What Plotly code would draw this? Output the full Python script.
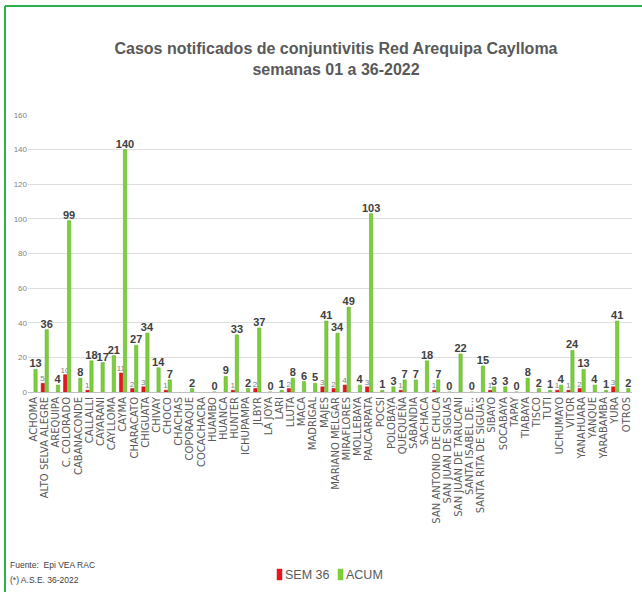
import plotly.graph_objects as go

categories = ["ACHOMA", "ALTO SELVA ALEGRE", "AREQUIPA", "C. COLORADO", "CABANACONDE",
              "CALLALLI", "CAYARANI", "CAYLLOMA", "CAYMA", "CHARACATO", "CHIGUATA",
              "CHIVAY", "CHOCO", "CHACHAS", "COPORAQUE", "COCACHACRA", "HUAMBO",
              "HUANCA", "HUNTER", "ICHUPAMPA", "JLBYR", "LA JOYA", "LARI", "LLUTA",
              "MACA", "MADRIGAL", "MAJES", "MARIANO MELGAR", "MIRAFLORES", "MOLLEBAYA",
              "PAUCARPATA", "POCSI", "POLOBAYA", "QUEQUEÑA", "SABANDIA", "SACHACA",
              "SAN ANTONIO DE CHUCA", "SAN JUAN DE SIGUAS", "SAN JUAN DE TARUCANI",
              "SANTA ISABEL DE...", "SANTA RITA DE SIGUAS", "SIBAYO", "SOCABAYA",
              "TAPAY", "TIABAYA", "TISCO", "TUTI", "UCHUMAYO", "VITOR", "YANAHUARA",
              "YANQUE", "YARABAMBA", "YURA", "OTROS"]

sem36 = [None, 5, None, 10, None, 1, None, None, 11, 2, 3, None, 1, None, None, None, None,
         None, 1, None, 2, None, None, 2, None, None, 3, 2, 4, None, 3, None, None, 1, None,
         None, 1, None, None, None, None, 1, None, None, None, None, None, 1, 1, 2, None,
         None, 3, None]

acum = [13, 36, 4, 99, 8, 18, 17, 21, 140, 27, 34, 14, 7, None, 2, None, 0, 9, 33, 2, 37,
        0, 1, 8, 6, 5, 41, 34, 49, 4, 103, 1, 3, 7, 7, 18, 7, 0, 22, 0, 15, 3, 3, 0, 8, 2,
        1, 4, 24, 13, 4, 1, 41, 2]

series_names = ["SEM 36", "ACUM"]
series_colors = ["#e8151b", "#7ccf3a"]
y_ticks = [0, 20, 40, 60, 80, 100, 120, 140, 160]

SANS = "Liberation Sans, Arial, sans-serif"

def lbl(v):
    return "" if v is None else str(v)

fig = go.Figure()
fig.add_trace(go.Bar(
    name=series_names[0], x=categories, y=sem36,
    marker=dict(color=series_colors[0], line=dict(color="#b00d12", width=0.5)),
    text=[lbl(v) for v in sem36], textposition="outside", constraintext="none",
    textfont=dict(family=SANS, size=8, color="#7f7f7f"),
    cliponaxis=False, showlegend=False,
))
fig.add_trace(go.Bar(
    name=series_names[1], x=categories, y=acum,
    marker=dict(color=series_colors[1], line=dict(color="#5aa82a", width=0.5)),
    text=[lbl(v) for v in acum], textposition="outside", constraintext="none",
    textfont=dict(family=SANS, size=11, color="#404040", weight="bold"),
    cliponaxis=False, showlegend=False,
))

L, R, T, B = 28, 10, 115, 200
W, H = 642, 592
pw, ph = W - L - R, H - T - B

def px2x(px):
    return (px - L) / pw

def py2y(py):
    return (H - B - py) / ph

annotations = [
    dict(text="Fuente:  Epi VEA RAC", xref="paper", yref="paper",
         x=px2x(8), y=py2y(565), xanchor="left", yanchor="middle", showarrow=False,
         font=dict(family=SANS, size=8.5, color="#404040")),
    dict(text="(*) A.S.E. 36-2022", xref="paper", yref="paper",
         x=px2x(8), y=py2y(580), xanchor="left", yanchor="middle", showarrow=False,
         font=dict(family=SANS, size=8.5, color="#404040")),
]
shapes = [
    dict(type="line", xref="paper", yref="paper", x0=px2x(5), x1=px2x(642),
         y0=py2y(6), y1=py2y(6), line=dict(color="#2ab24b", width=2)),
    dict(type="line", xref="paper", yref="paper", x0=px2x(5), x1=px2x(5),
         y0=py2y(6), y1=py2y(592), line=dict(color="#2ab24b", width=2)),
]
# legend (compact, square marker right before label)
leg_x = [277, 338]
for name, col, lx in zip(series_names, series_colors, leg_x):
    shapes.append(dict(type="rect", xref="paper", yref="paper",
                       x0=px2x(lx), x1=px2x(lx + 5), y0=py2y(580), y1=py2y(569),
                       fillcolor=col, line=dict(color=col, width=0.5)))
    annotations.append(dict(text=name, xref="paper", yref="paper",
                            x=px2x(lx + 6), y=py2y(575), xanchor="left", yanchor="middle",
                            showarrow=False,
                            font=dict(family=SANS, size=12.5, color="#595959")))

fig.update_layout(
    width=W, height=H,
    margin=dict(l=L, r=R, t=T, b=B, autoexpand=False),
    paper_bgcolor="white", plot_bgcolor="white",
    barmode="group", bargap=0.3, bargroupgap=0.15,
    title=dict(
        text="Casos notificados de conjuntivitis Red Arequipa Caylloma<br>semanas 01 a 36-2022",
        x=336 / W, xanchor="center", y=1 - 54 / H, yanchor="middle",
        font=dict(family=SANS, size=16, color="#595959", weight="bold"),
    ),
    xaxis=dict(
        tickmode="array", tickvals=categories, ticktext=categories,
        tickangle=-90, tickfont=dict(family="DejaVu Sans", size=10, color="#595959"),
        showline=True, linecolor="#bfbfbf", linewidth=1, ticks="",
        showgrid=False, automargin=False,
    ),
    yaxis=dict(
        range=[0, 160], tickvals=y_ticks, showgrid=True, gridcolor="#dedede",
        gridwidth=1, zeroline=False, showline=False, ticks="",
        tickfont=dict(family=SANS, size=8, color="#7f7f7f"), automargin=False,
    ),
    showlegend=False,
    annotations=annotations,
    shapes=shapes,
)

fig.write_html("out.html", config={"displayModeBar": False},
               post_script="document.body.style.margin='0';document.body.style.overflow='hidden';")
